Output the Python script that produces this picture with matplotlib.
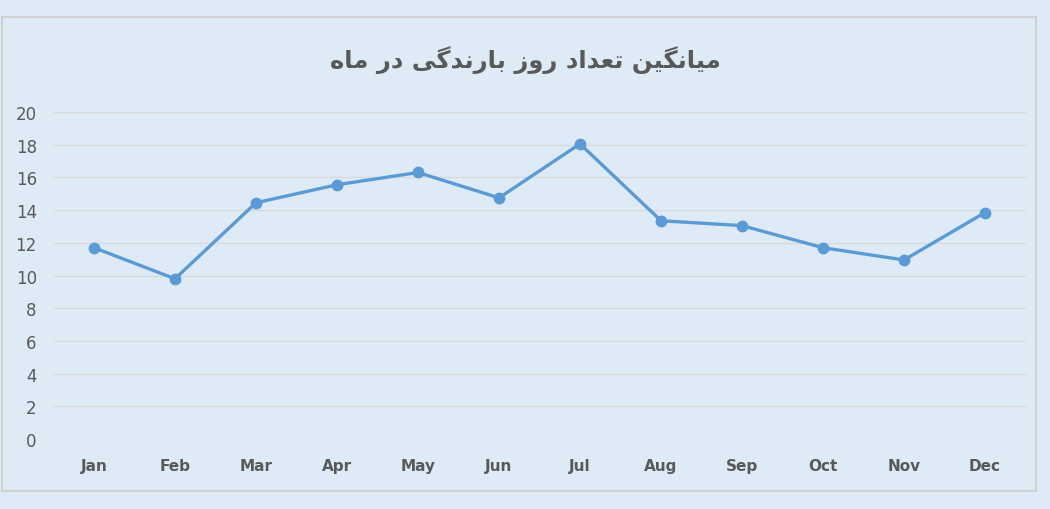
import matplotlib.pyplot as plt
from matplotlib.patches import Rectangle

months = ['Jan', 'Feb', 'Mar', 'Apr', 'May', 'Jun',
          'Jul', 'Aug', 'Sep', 'Oct', 'Nov', 'Dec']
rain_days = [11.7, 9.8, 14.45, 15.55, 16.3, 14.75, 18.05, 13.35, 13.05, 11.7, 10.95, 13.85]
y_ticks = [0, 2, 4, 6, 8, 10, 12, 14, 16, 18, 20]

# Persian title, pre-shaped with presentation forms (matplotlib does no Arabic shaping)
# logical: میانگین تعداد روز بارندگی در ماه
title_logical = ('\uFEE3\uFBFF\uFE8E\uFEE7\uFB95\uFBFF\uFEE6 '
                 '\uFE97\uFECC\uFEAA\uFE8D\uFEA9 '
                 '\uFEAD\uFEED\uFEAF '
                 '\uFE91\uFE8E\uFEAD\uFEE7\uFEAA\uFB94\uFBFD '
                 '\uFEA9\uFEAD '
                 '\uFEE3\uFE8E\uFEE9')
title_visual = title_logical[::-1]

BG = '#deebf7'
LINE = '#5b9bd5'
TXT = '#595959'

fig = plt.figure(figsize=(10.5, 5.1), dpi=100, facecolor=BG)
fig.patches.append(Rectangle((2 / 1050, 1 - 492 / 510), 1034 / 1050, 474 / 510,
                             transform=fig.transFigure, fill=False,
                             edgecolor='#d0d0d0', linewidth=1.5))

ax = fig.add_axes([53.5 / 1050, 1 - 440 / 510, 972 / 1050, 327 / 510])
ax.set_facecolor(BG)
x = list(range(len(months)))
ax.plot(x, rain_days, color=LINE, linewidth=2.4, marker='o', markersize=7.5, zorder=3)

ax.set_xlim(-0.5, len(months) - 0.5)
ax.set_ylim(0, 20)
ax.set_yticks(y_ticks)
ax.set_xticks(x)
ax.set_xticklabels(months, fontsize=11, fontweight='bold', color=TXT)
ax.tick_params(axis='y', labelsize=12, colors=TXT, length=0, pad=12)
ax.tick_params(axis='x', length=0, pad=14)
ax.grid(axis='y', color='#d9d9d9', linewidth=1)
ax.set_axisbelow(True)
for s in ax.spines.values():
    s.set_visible(False)

fig.text(0.5, 1 - 60 / 510, title_visual, ha='center', va='center',
         fontsize=17.5, fontweight='bold', color=TXT,
         family=['DejaVu Sans'])

fig.savefig('out.png', dpi=100, facecolor=BG)
